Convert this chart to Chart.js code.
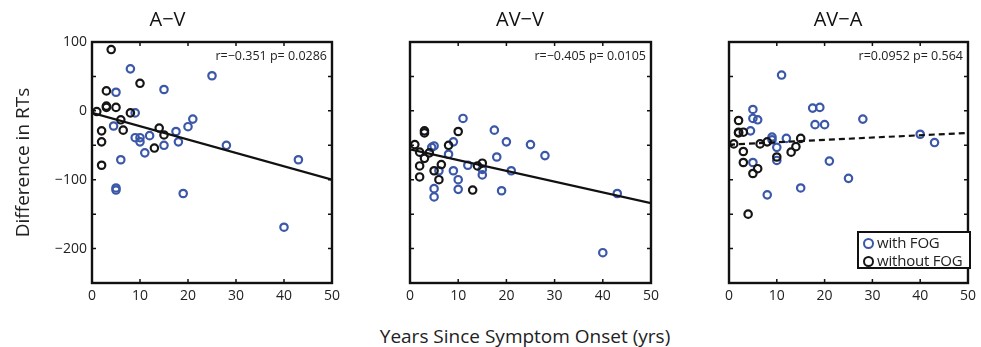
<!DOCTYPE html>
<html>
<head>
<meta charset="utf-8">
<script src="https://cdn.jsdelivr.net/npm/chart.js@4.4.1/dist/chart.umd.min.js"></script>
<style>
    body {
        margin: 0;
        width: 981px;
        height: 347px;
        overflow: hidden;
        position: relative;
        background: #fff;
        font-family: "Open Sans", sans-serif;
    }
    canvas { position: absolute; top: 0; }
    #x-title {
        position: absolute;
        left: 360px;
        width: 330px;
        top: 323px;
        text-align: center;
        font-size: 19px;
        color: #222;
        white-space: nowrap;
    }
    #legend {
        position: absolute;
        left: 857px;
        top: 231px;
        width: 106px;
        height: 34px;
        padding-left: 4px;
        border: 2px solid #111;
        background: #fff;
        font-size: 15px;
        line-height: 18px;
        color: #222;
        white-space: nowrap;
        letter-spacing: -0.2px;
    }
    #legend .mk {
        display: inline-block;
        width: 7px;
        height: 7px;
        border: 2px solid;
        border-radius: 50%;
        margin-right: 3px;
        vertical-align: -1px;
    }
</style>
</head>
<body>
<canvas id="chartAV" width="345" height="310" style="left:0px"></canvas>
<canvas id="chartAVV" width="278" height="310" style="left:386px"></canvas>
<canvas id="chartAVA" width="276" height="310" style="left:705px"></canvas>
<div id="x-title">Years Since Symptom Onset (yrs)</div>
<div id="legend">
    <div><span class="mk" style="border-color:#3b57a8"></span>with FOG</div>
    <div><span class="mk" style="border-color:#151515"></span>without FOG</div>
</div>
<script>
// values (years since onset, difference in RTs in ms)
const xTicks = [0, 10, 20, 30, 40, 50];
const yTicks = [100, 50, 0, -50, -100, -150, -200];
const fitYears = [0, 50];

// A-V
const avFogYears = [8, 25, 15, 5, 9, 4.5, 21, 20, 17.5, 18, 12, 9, 10, 10, 15, 11, 28, 6, 43, 5, 5, 19, 40];
const avFogDiff = [61, 51, 31, 27, -3, -22, -12, -23, -30, -45, -36, -39, -39, -45, -50, -61, -50, -71, -71, -112, -115, -120, -169];
const avNoFogYears = [4, 3, 3, 3, 5, 1, 8, 10, 6, 6.5, 2, 2, 2, 14, 15, 13];
const avNoFogDiff = [89, 29, 5, 7, 5, -1, -3, 40, -13, -28, -29, -45, -79, -25, -35, -54];
const avFit = [-3, -100];

// AV-V
const avvFogYears = [11, 17.5, 20, 25, 28, 18, 9, 5, 4.5, 8, 12, 9, 6, 10, 10, 15, 15, 21, 19, 5, 5, 43, 40];
const avvFogDiff = [-11, -28, -45, -49, -65, -67, -45, -51, -53, -63, -79, -87, -87, -100, -114, -93, -85, -87, -116, -113, -125, -120, -206];
const avvNoFogYears = [1, 3, 3, 2, 3, 4, 2, 2, 10, 8, 6.5, 5, 6, 14, 15, 13];
const avvNoFogDiff = [-49, -29, -32, -60, -69, -61, -80, -96, -30, -50, -78, -87, -100, -80, -76, -115];
const avvFit = [-56, -134];

// AV-A
const avaFogYears = [11, 5, 5, 6, 4.5, 17.5, 19, 18, 20, 28, 9, 9, 12, 10, 10, 5, 21, 25, 15, 8, 40, 43];
const avaFogDiff = [52, 2, -11, -13, -29, 4, 5, -20, -20, -12, -38, -42, -40, -53, -72, -75, -73, -98, -112, -122, -34, -46];
const avaNoFogYears = [1, 2, 2, 2, 3, 3, 3, 6.5, 8, 10, 13, 14, 15, 6, 5, 4];
const avaNoFogDiff = [-48, -14, -31, -32, -31, -59, -75, -48, -45, -67, -60, -52, -40, -84, -91, -150];
const avaFit = [-49, -32];

const panelTitles = ['A\u2212V', 'AV\u2212V', 'AV\u2212A'];
const panelStats = ['r=\u22120.351 p= 0.0286', 'r=\u22120.405 p= 0.0105', 'r=0.0952 p= 0.564'];

const FONT = '"Open Sans", sans-serif';
const BLUE = '#3b57a8';
const BLACK = '#151515';

function toPoints(xs, ys) {
    return xs.map((x, i) => ({ x: x, y: ys[i] }));
}

// box, inward tick marks and the r/p text
const framePlugin = {
    id: 'frame',
    afterDraw(chart, args, opts) {
        const { ctx, chartArea: a, scales: { x, y } } = chart;
        ctx.save();
        ctx.strokeStyle = '#111';
        ctx.lineWidth = 1.5;
        ctx.beginPath();
        xTicks.forEach(v => {
            const px = x.getPixelForValue(v);
            ctx.moveTo(px, a.bottom); ctx.lineTo(px, a.bottom - 4);
            ctx.moveTo(px, a.top); ctx.lineTo(px, a.top + 4);
        });
        yTicks.forEach(v => {
            const py = y.getPixelForValue(v);
            ctx.moveTo(a.left, py); ctx.lineTo(a.left + 4, py);
            ctx.moveTo(a.right, py); ctx.lineTo(a.right - 4, py);
        });
        ctx.stroke();
        ctx.lineWidth = 2.4;
        ctx.strokeRect(a.left, a.top, a.right - a.left, a.bottom - a.top);
        ctx.fillStyle = '#222';
        ctx.font = '12.5px ' + FONT;
        ctx.textAlign = 'right';
        ctx.textBaseline = 'middle';
        ctx.fillText(opts.stat, a.right - 5, a.top + 14);
        ctx.restore();
    }
};

function makePanel(canvasId, idx, fog, noFog, fit, dashed, axisWidth, showYLabels) {
    const ctx = document.getElementById(canvasId).getContext('2d');
    return new Chart(ctx, {
        type: 'scatter',
        data: {
            datasets: [
                {
                    type: 'line',
                    data: toPoints(fitYears, fit),
                    borderColor: '#111',
                    borderWidth: 2.2,
                    borderDash: dashed ? [6, 4] : [],
                    pointRadius: 0,
                    fill: false,
                    order: 0
                },
                {
                    label: 'without FOG',
                    data: noFog,
                    borderColor: BLACK,
                    backgroundColor: 'rgba(0,0,0,0)',
                    borderWidth: 2.2,
                    pointRadius: 3.7,
                    order: 1
                },
                {
                    label: 'with FOG',
                    data: fog,
                    borderColor: BLUE,
                    backgroundColor: 'rgba(0,0,0,0)',
                    borderWidth: 2.2,
                    pointRadius: 3.7,
                    order: 2
                }
            ]
        },
        options: {
            responsive: false,
            animation: false,
            devicePixelRatio: 1,
            layout: { padding: { left: 0, right: 10, top: 0, bottom: 0 } },
            scales: {
                x: {
                    type: 'linear',
                    min: 0,
                    max: 50,
                    grid: { display: false, drawTicks: false },
                    border: { display: false },
                    ticks: {
                        stepSize: 10,
                        padding: 5,
                        color: '#222',
                        font: { family: FONT, size: 14 }
                    },
                    afterFit: scale => { scale.height = 27; }
                },
                y: {
                    type: 'linear',
                    min: -250,
                    max: 100,
                    grid: { display: false, drawTicks: false },
                    border: { display: false },
                    ticks: {
                        display: showYLabels,
                        stepSize: 50,
                        autoSkip: false,
                        padding: 5,
                        color: '#222',
                        font: { family: FONT, size: 14 },
                        callback: v => (v % 100 === 0 ? String(v).replace('-', '\u2212') : '')
                    },
                    title: {
                        display: showYLabels,
                        text: 'Difference in RTs',
                        color: '#222',
                        padding: { top: 12 },
                        font: { family: FONT, size: 19 }
                    },
                    afterFit: scale => { scale.width = axisWidth; }
                }
            },
            plugins: {
                legend: { display: false },
                tooltip: { enabled: false },
                title: {
                    display: true,
                    text: panelTitles[idx],
                    color: '#111',
                    padding: { top: 8, bottom: 10 },
                    font: { family: FONT, size: 20, weight: 'normal' }
                },
                frame: { stat: panelStats[idx] }
            }
        },
        plugins: [framePlugin]
    });
}

makePanel('chartAV', 0, toPoints(avFogYears, avFogDiff), toPoints(avNoFogYears, avNoFogDiff), avFit, false, 92, true);
makePanel('chartAVV', 1, toPoints(avvFogYears, avvFogDiff), toPoints(avvNoFogYears, avvNoFogDiff), avvFit, false, 24, false);
makePanel('chartAVA', 2, toPoints(avaFogYears, avaFogDiff), toPoints(avaNoFogYears, avaNoFogDiff), avaFit, true, 24, false);
</script>
</body>
</html>
